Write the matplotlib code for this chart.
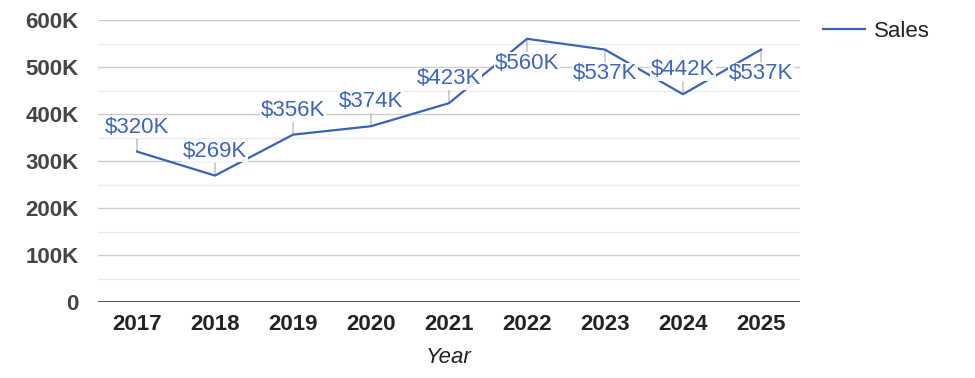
import matplotlib.pyplot as plt
import numpy as np

years = ['2017', '2018', '2019', '2020', '2021', '2022', '2023', '2024', '2025']
sales = [320000, 269000, 356000, 374000, 423000, 560000, 537000, 442000, 537000]
labels = ['$320K', '$269K', '$356K', '$374K', '$423K', '$560K', '$537K', '$442K', '$537K']
# label above (+1) or below (-1) the point
side = [1, 1, 1, 1, 1, -1, -1, 1, -1]

plt.rcParams['font.family'] = ['Liberation Sans', 'DejaVu Sans']
blue = '#3a62b4'

fig = plt.figure(figsize=(9.75, 3.78), dpi=100)
ax = fig.add_axes([98/975, 76/378, 702/975, 282/378])

x = np.arange(len(years))
ax.set_xlim(-0.5, len(years) - 0.5)
ax.set_ylim(0, 600000)

# gridlines
for v in np.arange(50000, 600001, 100000):
    ax.axhline(v, color='#ebebeb', lw=1, zorder=0)
for v in np.arange(100000, 600001, 100000):
    ax.axhline(v, color='#cccccc', lw=1, zorder=0)
ax.axhline(0, color='#333333', lw=1.2, zorder=1)

ax.plot(x, sales, color=blue, lw=1.6, zorder=3, clip_on=False, label='Sales')

# data labels with leader lines
for xi, v, lab, s in zip(x, sales, labels, side):
    ax.annotate('', xy=(xi, v), xytext=(0, 9 * s), textcoords='offset points',
                arrowprops=dict(arrowstyle='-', color='#aaaaaa', lw=0.8,
                                shrinkA=0, shrinkB=0), zorder=2)
    ax.annotate(lab, xy=(xi, v), xytext=(0, 17.5 * s), textcoords='offset points',
                ha='center', va='center', fontsize=16, color='#3d66bb', zorder=4,
                bbox=dict(boxstyle='square,pad=0.02', fc='white', ec='none', alpha=0.9))

ax.set_xticks(x)
ax.set_xticklabels(years, fontsize=16, fontweight='bold', color='#222222')
ax.set_yticks(np.arange(0, 600001, 100000))
ax.set_yticklabels(['0', '100K', '200K', '300K', '400K', '500K', '600K'],
                   fontsize=16, fontweight='bold', color='#444444')
ax.tick_params(length=0, pad=14)
ax.tick_params(axis='x', pad=9)
for sp in ax.spines.values():
    sp.set_visible(False)

ax.set_xlabel('Year', fontsize=16, fontstyle='italic', color='#222222', labelpad=8)

leg = fig.legend(loc='upper left', bbox_to_anchor=(823/975, 1 - 21/378), frameon=False,
                 fontsize=16, handlelength=1.9, handletextpad=0.4,
                 borderpad=0, borderaxespad=0, labelcolor='#222222')

fig.savefig('out.png', dpi=100)
